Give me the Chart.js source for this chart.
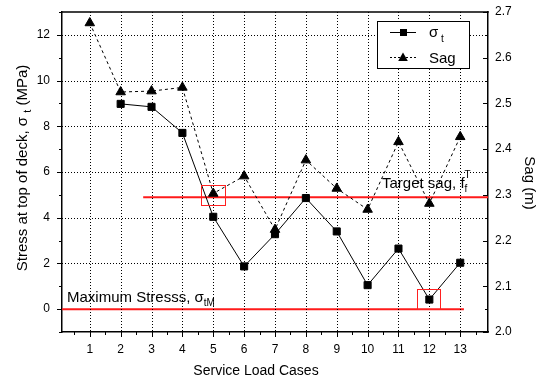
<!DOCTYPE html>
<html>
<head>
<meta charset="utf-8">
<script src="https://cdn.jsdelivr.net/npm/chart.js@4.4.0/dist/chart.umd.min.js"></script>
<style>
  body { margin: 0; background: #fff; }
  canvas { display: block; }
</style>
</head>
<body>
<canvas id="chart" width="543" height="381"></canvas>
<script>
// data
const cases = [1, 2, 3, 4, 5, 6, 7, 8, 9, 10, 11, 12, 13];
const stress = [null, 8.98, 8.85, 7.71, 4.04, 1.87, 3.28, 4.86, 3.40, 1.05, 2.65, 0.42, 2.03];
const sag = [2.676, 2.525, 2.527, 2.535, 2.303, 2.341, 2.224, 2.376, 2.314, 2.268, 2.416, 2.281, 2.427];

const xTicks = [1, 2, 3, 4, 5, 6, 7, 8, 9, 10, 11, 12, 13];
const stressTicks = [0, 2, 4, 6, 8, 10, 12];
const sagTicks = [2.0, 2.1, 2.2, 2.3, 2.4, 2.5, 2.6, 2.7];

// reference lines
const maxStress = 0;
const targetSag = 2.295;

const FONT = "Arial, 'Liberation Sans', sans-serif";

// red boxes, in data units (x, stress axis)
const boxes = [
  { x0: 4.6, x1: 5.37, y0: 4.56, y1: 5.43 },
  { x0: 11.61, x1: 12.35, y0: 0.01, y1: 0.89 }
];

function seg(ctx, x1, y1, x2, y2) {
  ctx.beginPath();
  ctx.moveTo(x1, y1);
  ctx.lineTo(x2, y2);
  ctx.stroke();
}

function drawParts(ctx, x, y, parts) {
  parts.forEach(p => {
    ctx.font = p.size + 'px ' + FONT;
    ctx.fillText(p.t, x, y + (p.dy || 0));
    if (!p.stay) x += ctx.measureText(p.t).width;
  });
  return x;
}

function partsWidth(ctx, parts) {
  let w = 0;
  parts.forEach(p => {
    ctx.font = p.size + 'px ' + FONT;
    if (!p.stay) w += ctx.measureText(p.t).width;
  });
  return w;
}

// grid, ticks, frame
const frame = {
  id: 'frame',
  afterDraw(chart) {
    const ctx = chart.ctx;
    const a = chart.chartArea;
    const sx = chart.scales.x, sy = chart.scales.y, sy2 = chart.scales.y2;
    ctx.save();
    ctx.strokeStyle = '#000';
    ctx.lineWidth = 1;
    ctx.setLineDash([1, 2]);
    xTicks.forEach(v => {
      const px = Math.round(sx.getPixelForValue(v)) + 0.5;
      seg(ctx, px, a.top, px, a.bottom);
    });
    stressTicks.forEach(v => {
      if (v === maxStress) return;
      const py = Math.round(sy.getPixelForValue(v)) + 0.5;
      seg(ctx, a.left, py, a.right, py);
    });
    ctx.setLineDash([]);
    xTicks.forEach(v => {
      const px = Math.round(sx.getPixelForValue(v)) + 0.5;
      seg(ctx, px, a.bottom, px, a.bottom + 5);
    });
    stressTicks.forEach(v => {
      const py = Math.round(sy.getPixelForValue(v)) + 0.5;
      seg(ctx, a.left - 5, py, a.left, py);
    });
    sagTicks.forEach(v => {
      const py = Math.round(sy2.getPixelForValue(v)) + 0.5;
      seg(ctx, a.right - 5, py, a.right, py);
    });
    for (let v = 0.5; v < 14; v += 1) {
      const px = Math.round(sx.getPixelForValue(v)) + 0.5;
      seg(ctx, px, a.bottom, px, a.bottom + 3);
    }
    for (let v = -1; v <= 13; v += 2) {
      const py = Math.round(sy.getPixelForValue(v)) + 0.5;
      seg(ctx, a.left - 3, py, a.left, py);
    }
    for (let v = 2.05; v < 2.7; v += 0.1) {
      const py = Math.round(sy2.getPixelForValue(v)) + 0.5;
      seg(ctx, a.right - 3, py, a.right, py);
    }
    ctx.lineWidth = 1.5;
    seg(ctx, a.left - 0.75, a.top, a.right + 0.75, a.top);
    ctx.restore();
  }
};

const decor = {
  id: 'decor',
  afterDraw(chart) {
    const ctx = chart.ctx;
    const a = chart.chartArea;
    const sx = chart.scales.x, sy = chart.scales.y, sy2 = chart.scales.y2;
    ctx.save();

    // red boxes
    ctx.strokeStyle = '#ff2020';
    ctx.lineWidth = 1;
    boxes.forEach(b => {
      const x0 = sx.getPixelForValue(b.x0), x1 = sx.getPixelForValue(b.x1);
      const y0 = sy.getPixelForValue(b.y1), y1 = sy.getPixelForValue(b.y0);
      ctx.strokeRect(Math.round(x0) + 0.5, Math.round(y0) + 0.5, Math.round(x1 - x0), Math.round(y1 - y0));
    });

    // legend
    ctx.fillStyle = '#fff';
    ctx.fillRect(377, 21, 92, 47);
    ctx.strokeStyle = '#000';
    ctx.lineWidth = 1;
    ctx.strokeRect(377.5, 21.5, 92, 47);
    ctx.fillStyle = '#000';
    seg(ctx, 390, 32.5, 416, 32.5);
    ctx.fillRect(400, 29, 7, 7);
    ctx.setLineDash([2, 2]);
    seg(ctx, 390, 57.5, 416, 57.5);
    ctx.setLineDash([]);
    ctx.beginPath();
    ctx.moveTo(403, 52.5);
    ctx.lineTo(407.8, 61);
    ctx.lineTo(398.2, 61);
    ctx.closePath();
    ctx.fill();
    ctx.textAlign = 'left';
    ctx.textBaseline = 'alphabetic';
    drawParts(ctx, 429, 37, [{ t: 'σ', size: 15 }, { t: ' t', size: 10, dy: 5 }]);
    drawParts(ctx, 429, 63, [{ t: 'Sag', size: 15 }]);

    // annotations
    const y0 = sy.getPixelForValue(maxStress);
    drawParts(ctx, a.left + 5, y0 - 7, [
      { t: 'Maximum Stresss, σ', size: 15 },
      { t: 'tM', size: 10, dy: 4 }
    ]);
    const yT = sy2.getPixelForValue(targetSag);
    drawParts(ctx, 382, yT - 9, [
      { t: 'Target sag, f', size: 15 },
      { t: 'f', size: 10, dy: 4, stay: true },
      { t: 'T', size: 10, dy: -10 }
    ]);

    // axis titles
    ctx.font = '14px ' + FONT;
    ctx.textAlign = 'center';
    ctx.fillText('Service Load Cases', 256, 375);

    ctx.save();
    ctx.translate(529, 183);
    ctx.rotate(Math.PI / 2);
    ctx.textBaseline = 'middle';
    ctx.font = '15px ' + FONT;
    ctx.fillText('Sag (m)', 0, 0);
    ctx.restore();

    ctx.save();
    ctx.translate(22, 168);
    ctx.rotate(-Math.PI / 2);
    ctx.textAlign = 'left';
    const lt = [
      { t: 'Stress at top of deck, σ ', size: 15 },
      { t: 't', size: 11, dy: 4 },
      { t: ' (MPa)', size: 15 }
    ];
    drawParts(ctx, -partsWidth(ctx, lt) / 2, 5, lt);
    ctx.restore();

    ctx.restore();
  }
};

const tickFont = { family: FONT, size: 12 };

new Chart(document.getElementById('chart'), {
  type: 'line',
  data: {
    datasets: [
      {
        label: 'σt',
        data: cases.map((c, i) => ({ x: c, y: stress[i] })),
        yAxisID: 'y',
        borderColor: '#000',
        borderWidth: 1,
        pointStyle: 'rect',
        pointRadius: 5,
        pointBackgroundColor: '#000',
        pointBorderColor: '#000'
      },
      {
        label: 'Sag',
        data: cases.map((c, i) => ({ x: c, y: sag[i] })),
        yAxisID: 'y2',
        borderColor: '#000',
        borderWidth: 1,
        borderDash: [3, 3],
        pointStyle: 'triangle',
        pointRadius: 5.5,
        pointBackgroundColor: '#000',
        pointBorderColor: '#000'
      },
      {
        label: 'max stress',
        data: [{ x: 0.1, y: maxStress }, { x: 13.12, y: maxStress }],
        yAxisID: 'y',
        borderColor: '#ff1a1a',
        borderWidth: 2,
        pointRadius: 0
      },
      {
        label: 'target sag',
        data: [{ x: 2.73, y: targetSag }, { x: 13.9, y: targetSag }],
        yAxisID: 'y2',
        borderColor: '#ff1a1a',
        borderWidth: 2,
        pointRadius: 0
      }
    ]
  },
  options: {
    responsive: false,
    animation: false,
    layout: { padding: { top: 12 } },
    plugins: { legend: { display: false }, tooltip: { enabled: false } },
    scales: {
      x: {
        type: 'linear',
        min: 0.1,
        max: 13.9,
        grid: { display: false, tickLength: 5 },
        afterBuildTicks: s => { s.ticks = xTicks.map(v => ({ value: v })); },
        afterFit: s => { s.height = 49; },
        ticks: { font: tickFont, color: '#000', padding: 5, maxRotation: 0, autoSkip: false },
        border: { color: '#000', width: 1.5 }
      },
      y: {
        position: 'left',
        min: -1,
        max: 13,
        grid: { display: false, tickLength: 10 },
        afterBuildTicks: s => { s.ticks = stressTicks.map(v => ({ value: v })); },
        afterFit: s => { s.width = 62; },
        ticks: { font: tickFont, color: '#000', padding: 2 },
        border: { color: '#000', width: 1.5 }
      },
      y2: {
        position: 'right',
        min: 2.0,
        max: 2.7,
        grid: { display: false, tickLength: 5 },
        afterBuildTicks: s => { s.ticks = sagTicks.map(v => ({ value: v })); },
        afterFit: s => { s.width = 55; },
        ticks: { font: tickFont, color: '#000', padding: 2, callback: v => v.toFixed(1) },
        border: { color: '#000', width: 1.5 }
      }
    }
  },
  plugins: [frame, decor]
});
</script>
</body>
</html>
